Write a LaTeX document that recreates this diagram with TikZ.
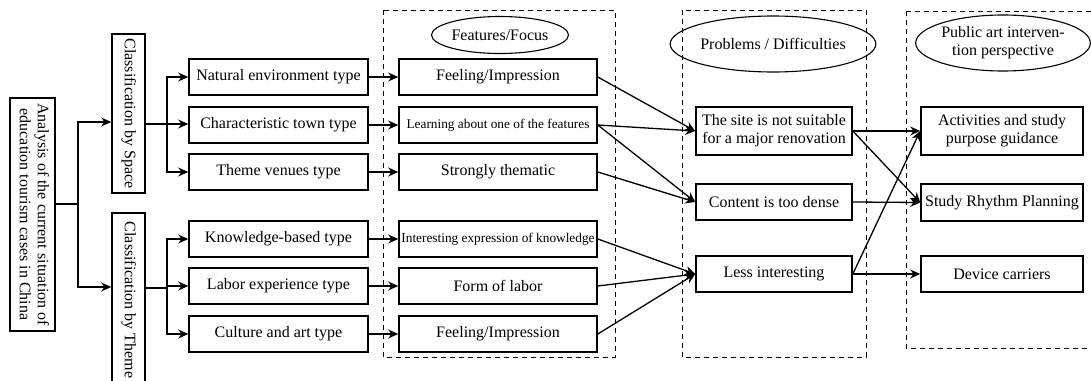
\documentclass[tikz,border=0pt]{standalone}
\usepackage{fontspec}
\usepackage{graphicx}
\setmainfont{Liberation Serif}
\usetikzlibrary{arrows.meta,shapes.geometric}
\newcommand{\vtext}[1]{\rotatebox{-90}{\begin{tabular}{@{}c@{}}#1\end{tabular}}}
\begin{document}
\begin{tikzpicture}[x=1pt,y=-1pt,
  box/.style={draw,line width=1.6pt,inner sep=0pt,align=center,font=\fontsize{16}{18}\selectfont},
  oval/.style={draw,line width=1.1pt,ellipse,inner sep=0pt,align=center,font=\fontsize{16}{18}\selectfont},
  frame/.style={draw,line width=0.9pt,dash pattern=on 5pt off 4pt},
  arr/.style={line width=1.3pt,-{Stealth[length=10pt,width=9pt]}},
  ln/.style={line width=1.3pt},
  small/.style={font=\fontsize{13.3}{15}\selectfont}]
\useasboundingbox (0,0) rectangle (1091,380);
\fill[white] (0,0) rectangle (1091,380);
% frames
\draw[frame] (383,10) rectangle (615,357);
\draw[frame] (682,10) rectangle (866,357);
\draw[frame] (906,11) -- (1100,11);
\draw[frame] (906,11) -- (906,348) -- (1100,348);
% ovals
\node[oval,minimum width=114pt,minimum height=37pt] (o1) at (500,35) {Features/Focus};
\node[oval,minimum width=148pt,minimum height=56pt] (o2) at (773,44) {Problems / Difficulties};
\node[oval,minimum width=154pt,minimum height=56pt] (o3) at (1003,43) {Public art interven-\\tion perspective};
% left part
\node[box,minimum height=233pt,minimum width=45pt] (main) at (32.5,214.5) {\vtext{Analysis of the current situation of\\education tourism cases in China}};
\node[box,minimum height=159pt,minimum width=33pt] (space) at (128.5,113.5) {\vtext{Classification by Space}};
\node[box,minimum height=174pt,minimum width=33pt] (theme) at (128.5,300) {\vtext{Classification by Theme}};
% column 1
\foreach \n/\y/\t in {a1/77/Natural environment type,a2/125/Characteristic town type,a3/172/Theme venues type,a4/239/Knowledge-based type,a5/286/Labor experience type,a6/334/Culture and art type}
  \node[box,minimum width=179pt,minimum height=36pt] (\n) at (278.5,\y) {\t};
% column 2
\node[box,minimum width=198pt,minimum height=36pt] (b1) at (498,77) {Feeling/Impression};
\node[box,small,minimum width=198pt,minimum height=36pt] (b2) at (498,125) {Learning about one of the features};
\node[box,minimum width=198pt,minimum height=36pt] (b3) at (498,172) {Strongly thematic};
\node[box,small,minimum width=198pt,minimum height=36pt] (b4) at (498,239) {Interesting expression of knowledge};
\node[box,minimum width=198pt,minimum height=36pt] (b5) at (498,286) {Form of labor};
\node[box,minimum width=198pt,minimum height=36pt] (b6) at (498,334) {Feeling/Impression};
% column 3
\node[box,minimum width=156pt,minimum height=48pt] (c1) at (774,131) {The site is not suitable\\for a major renovation};
\node[box,minimum width=156pt,minimum height=36pt] (c2) at (774,202) {Content is too dense};
\node[box,minimum width=156pt,minimum height=36pt] (c3) at (774,274) {Less interesting};
% column 4
\node[box,minimum width=162pt,minimum height=48pt] (d1) at (1002,131) {Activities and study\\purpose guidance};
\node[box,minimum width=162pt,minimum height=37pt] (d2) at (1002,202.5) {Study Rhythm Planning};
\node[box,minimum width=162pt,minimum height=36pt] (d3) at (1002,274) {Device carriers};
% junctions
\coordinate (j0) at (78,204);
\coordinate (j1) at (78,122);
\coordinate (j2) at (78,287);
\coordinate (k1) at (167,124);
\coordinate (k2) at (167,288);
\draw[ln] ([yshift=10.5pt]main.east) -- (j0);
\draw[arr] (j0) |- (space.west |- j1);
\draw[arr] (j0) |- (theme.west |- j2);
\draw[ln] (space.east |- k1) -- (k1);
\draw[ln] (theme.east |- k2) -- (k2);
\draw[arr] (k1) |- (a1.west);
\draw[arr] (k1) -- (a2.west |- k1);
\draw[arr] (k1) |- (a3.west);
\draw[arr] (k2) |- (a4.west);
\draw[arr] (k2) |- (a5.west);
\draw[arr] (k2) |- (a6.west);
\foreach \i in {1,...,6} \draw[arr] (a\i.east) -- (b\i.west);
\draw[arr] (b1.east) -- (c1.west);
\draw[arr] (b2.east) -- (c1.west);
\draw[arr] (b2.east) -- (c2.west);
\draw[arr] (b3.east) -- (c2.west);
\draw[arr] (b4.east) -- (c3.west);
\draw[arr] (b5.east) -- (c3.west);
\draw[arr] (b6.east) -- (c3.west);
\draw[arr] (c1.east) -- (d1.west);
\draw[arr] (c1.east) -- (d2.west);
\draw[arr] (c2.east) -- (d2.west);
\draw[arr] (c3.east) -- (d3.west);
\draw[arr] (c3.east) -- (d1.west);
\end{tikzpicture}
\end{document}
